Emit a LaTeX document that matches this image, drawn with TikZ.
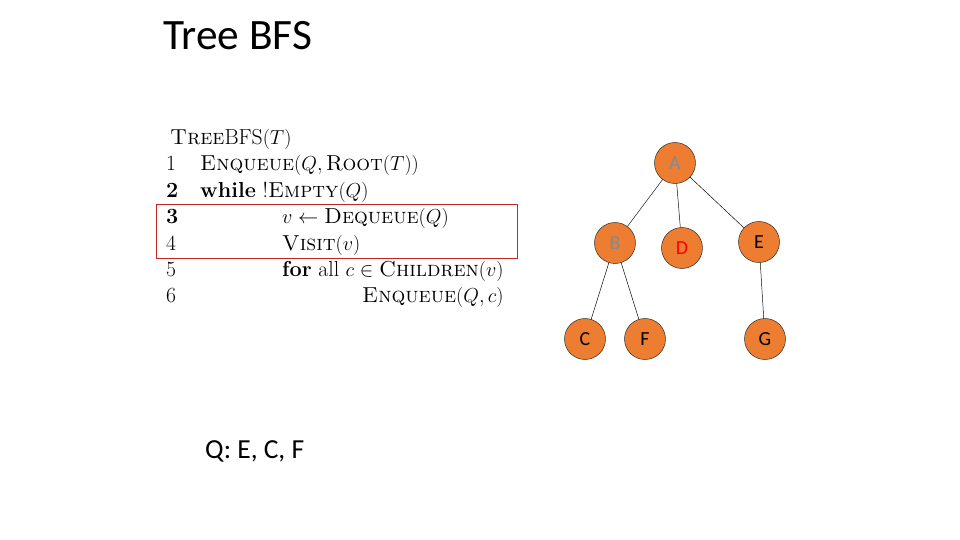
\documentclass[tikz,border=0pt]{standalone}
\usepackage{fontspec}
\newfontfamily\slidefont{Carlito}
\definecolor{nodeorange}{RGB}{237,125,49}
\definecolor{visitgray}{RGB}{128,138,150}
\definecolor{boxred}{RGB}{192,40,40}
\tikzset{
  treenode/.style={circle, draw=black!85, fill=nodeorange, minimum size=35pt, inner sep=0pt,
    font=\slidefont\fontsize{17}{17}\selectfont},
  treeedge/.style={black, thin},
  codeline/.style={anchor=base west, inner sep=0pt, font=\fontsize{18.5}{20}\selectfont},
}
\begin{document}
\begin{tikzpicture}[x=0.03cm, y=-0.03cm]

    \useasboundingbox[fill=white] (0,0) rectangle (960,540);

    % Title
    \node[anchor=base west, inner sep=0pt, font=\slidefont\fontsize{37}{37}\selectfont] (title) at (163,50) {Tree BFS};

    % Pseudocode
    \node[codeline] (head) at (170,145) {\textsc{Tree}BFS$(T)$};
    \node[codeline] (n1) at (166,171) {1};
    \node[codeline] (n2) at (166,197) {\textbf{2}};
    \node[codeline] (n3) at (166,224) {\textbf{3}};
    \node[codeline] (n4) at (166,250) {4};
    \node[codeline] (n5) at (166,276) {5};
    \node[codeline] (n6) at (166,302) {6};
    \node[codeline] (l1) at (200,171) {\textsc{Enqueue}$(Q,\textsc{Root}(T))$};
    \node[codeline] (l2) at (200,197) {\textbf{while} !\textsc{Empty}$(Q)$};
    \node[codeline] (l3) at (282,224) {$v \gets \textsc{Dequeue}(Q)$};
    \node[codeline] (l4) at (282,250) {\textsc{Visit}$(v)$};
    \node[codeline] (l5) at (282,276) {\textbf{for} all $c \in \textsc{Children}(v)$};
    \node[codeline] (l6) at (362,302) {\textsc{Enqueue}$(Q,c)$};

    % Current step
    \draw[boxred, semithick] (156,204) rectangle (517,258);

    % Tree
    \node[treenode, text=visitgray] (A) at (675,163) {A};
    \node[treenode, text=visitgray] (B) at (615,243) {B};
    \node[treenode, text=red] (D) at (682,248) {D};
    \node[treenode] (E) at (759,242) {E};
    \node[treenode] (C) at (585,339) {C};
    \node[treenode] (F) at (645,339) {F};
    \node[treenode] (G) at (765,339) {G};

    \draw[treeedge] (A) -- (B);
    \draw[treeedge] (A) -- (D);
    \draw[treeedge] (A) -- (E);
    \draw[treeedge] (B) -- (C);
    \draw[treeedge] (B) -- (F);
    \draw[treeedge] (E) -- (G);

    % Queue
    \node[anchor=base west, inner sep=0pt, font=\slidefont\fontsize{23.5}{24}\selectfont] (queue) at (205,458) {Q: E, C, F};

\end{tikzpicture}
\end{document}
